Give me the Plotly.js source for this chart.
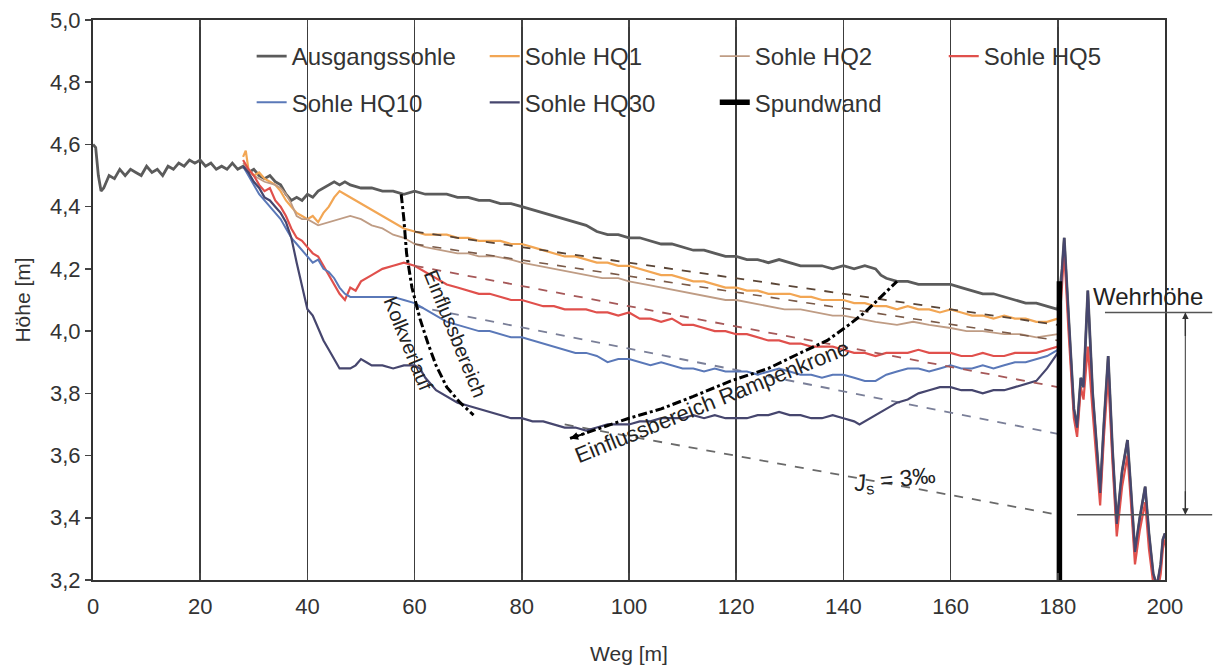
<!DOCTYPE html>
<html><head><meta charset="utf-8">
<script src="https://cdn.plot.ly/plotly-3.0.1.min.js"></script>
<style>body{margin:0;background:#fff}#chart{width:1228px;height:668px}</style>
</head><body><div id="chart"></div>
<script>
// ---------- DATA ----------
const ausX = [0,0.5,1,1.5,2,3,4,5,6,7,8,9,10,11,12,13,14,15,16,17,18,19,20,21,22,23,24,25,26,27,28,29,30,31,32,33,34,35,36,37,38,39,40,41,42,43,44,45,46,47,48,50,52,54,56,58,60,62,64,66,68,70,72,74,76,78,80,82,84,86,88,90,92,94,96,98,100,102,104,106,108,110,112,114,116,118,120,122,124,126,128,130,132,134,136,138,140,142,144,146,147,148,150,152,154,156,158,160,162,164,166,168,170,172,174,176,178,180];
const ausY = [4.60,4.59,4.50,4.45,4.46,4.50,4.49,4.52,4.50,4.52,4.51,4.50,4.53,4.51,4.52,4.50,4.53,4.52,4.54,4.53,4.55,4.54,4.55,4.53,4.54,4.52,4.53,4.52,4.54,4.52,4.53,4.51,4.52,4.50,4.49,4.50,4.48,4.47,4.44,4.42,4.43,4.42,4.44,4.43,4.45,4.46,4.47,4.48,4.47,4.48,4.47,4.46,4.46,4.45,4.45,4.44,4.45,4.44,4.44,4.44,4.43,4.43,4.42,4.42,4.41,4.41,4.40,4.39,4.38,4.37,4.36,4.35,4.34,4.32,4.31,4.31,4.30,4.30,4.29,4.28,4.28,4.27,4.26,4.26,4.25,4.24,4.24,4.23,4.23,4.22,4.23,4.22,4.21,4.21,4.21,4.20,4.21,4.20,4.21,4.20,4.18,4.17,4.16,4.16,4.15,4.15,4.15,4.15,4.14,4.13,4.12,4.12,4.11,4.10,4.09,4.09,4.08,4.07];

const hq1X = [28,28.5,29,30,31,32,33,34,35,36,37,38,39,40,41,42,43,44,45,46,47,48,50,52,54,56,58,60,62,64,66,68,70,72,74,76,78,80,82,84,86,88,90,92,94,96,98,100,102,104,106,108,110,112,114,116,118,120,122,124,126,128,130,132,134,136,138,140,142,144,146,148,150,152,154,156,158,160,162,164,166,168,170,172,174,176,178,180];
const hq1Y = [4.56,4.58,4.52,4.50,4.51,4.49,4.48,4.47,4.45,4.42,4.40,4.38,4.37,4.36,4.37,4.35,4.38,4.40,4.43,4.45,4.44,4.43,4.41,4.39,4.37,4.35,4.33,4.32,4.31,4.31,4.31,4.30,4.30,4.29,4.29,4.29,4.28,4.28,4.27,4.26,4.25,4.24,4.24,4.23,4.22,4.22,4.21,4.21,4.20,4.19,4.18,4.18,4.17,4.16,4.16,4.15,4.14,4.14,4.13,4.13,4.12,4.12,4.12,4.11,4.11,4.10,4.10,4.10,4.09,4.09,4.08,4.08,4.07,4.08,4.07,4.07,4.06,4.07,4.06,4.05,4.05,4.04,4.05,4.04,4.04,4.03,4.03,4.04];

const hq2X = [28,30,32,34,35,36,37,38,39,40,42,44,46,48,50,52,54,56,58,60,62,65,68,70,72,75,78,80,83,86,89,92,95,98,100,103,106,109,112,115,118,120,123,126,129,132,135,138,140,143,146,150,153,156,160,163,166,170,173,176,180];
const hq2Y = [4.54,4.50,4.48,4.47,4.46,4.44,4.41,4.37,4.36,4.36,4.34,4.35,4.36,4.37,4.36,4.34,4.33,4.31,4.30,4.28,4.27,4.26,4.25,4.25,4.24,4.24,4.23,4.22,4.21,4.20,4.19,4.18,4.17,4.17,4.16,4.15,4.14,4.13,4.12,4.11,4.10,4.10,4.09,4.08,4.07,4.07,4.06,4.05,4.05,4.04,4.03,4.02,4.03,4.02,4.01,4.00,4.00,3.99,3.99,3.98,3.99];

const hq5X = [28,29,30,31,32,33,34,35,36,37,38,39,40,41,42,43,44,45,46,47,48,49,50,52,54,56,58,60,62,64,66,68,70,72,74,76,78,80,82,84,86,88,90,92,94,96,98,100,102,104,106,108,110,112,114,116,118,120,122,124,126,128,130,132,134,136,138,140,142,144,146,148,150,152,154,156,158,160,162,164,166,168,170,172,174,176,178,180];
const hq5Y = [4.55,4.52,4.50,4.47,4.45,4.46,4.42,4.40,4.37,4.33,4.30,4.29,4.27,4.25,4.24,4.21,4.18,4.15,4.12,4.10,4.14,4.13,4.16,4.18,4.20,4.21,4.22,4.21,4.19,4.17,4.15,4.14,4.13,4.12,4.12,4.11,4.10,4.10,4.09,4.08,4.08,4.07,4.07,4.07,4.06,4.06,4.05,4.06,4.04,4.04,4.03,4.04,4.02,4.02,4.01,4.00,4.00,3.99,3.99,3.98,3.97,3.97,3.96,3.96,3.95,3.95,3.95,3.94,3.93,3.93,3.92,3.93,3.93,3.93,3.94,3.93,3.93,3.93,3.92,3.92,3.93,3.92,3.92,3.93,3.93,3.93,3.94,3.95];

const hq10X = [28,29,30,31,32,33,34,35,36,37,38,39,40,41,42,43,44,45,46,47,48,50,52,54,56,58,60,62,64,66,68,70,72,74,76,78,80,82,84,86,88,90,92,94,96,98,100,102,104,106,108,110,112,114,116,118,120,122,124,126,128,130,132,134,136,138,140,142,144,146,148,150,152,154,156,158,160,162,164,166,168,170,172,174,176,178,180];
const hq10Y = [4.53,4.50,4.47,4.44,4.42,4.40,4.38,4.36,4.33,4.30,4.28,4.26,4.24,4.22,4.23,4.20,4.19,4.17,4.14,4.12,4.11,4.11,4.11,4.11,4.11,4.10,4.09,4.07,4.05,4.03,4.02,4.01,4.00,4.00,3.99,3.98,3.98,3.97,3.96,3.95,3.94,3.93,3.93,3.92,3.90,3.91,3.91,3.90,3.89,3.90,3.89,3.88,3.88,3.87,3.88,3.87,3.87,3.87,3.86,3.87,3.88,3.87,3.86,3.86,3.85,3.86,3.86,3.85,3.84,3.84,3.86,3.87,3.88,3.88,3.87,3.88,3.89,3.88,3.88,3.89,3.88,3.89,3.90,3.90,3.91,3.92,3.94];

const hq30X = [28,29,30,31,32,33,34,35,36,37,38,39,40,41,42,43,44,45,46,47,48,49,50,51,52,54,56,58,60,61,62,64,66,68,70,72,74,76,78,80,82,84,86,88,90,92,94,96,98,100,102,104,106,108,110,112,114,116,118,120,122,124,126,128,130,132,134,136,138,140,142,143,144,146,148,150,152,154,156,158,160,162,164,166,168,170,172,174,176,178,180];
const hq30Y = [4.53,4.51,4.48,4.46,4.43,4.42,4.40,4.38,4.35,4.30,4.22,4.14,4.07,4.05,4.01,3.97,3.94,3.91,3.88,3.88,3.88,3.89,3.91,3.90,3.89,3.89,3.88,3.89,3.89,3.88,3.85,3.81,3.79,3.77,3.76,3.75,3.74,3.73,3.72,3.72,3.71,3.71,3.70,3.69,3.69,3.68,3.69,3.70,3.70,3.70,3.71,3.71,3.72,3.72,3.72,3.73,3.72,3.73,3.72,3.72,3.72,3.73,3.73,3.74,3.73,3.73,3.72,3.72,3.73,3.72,3.71,3.70,3.71,3.73,3.75,3.77,3.78,3.80,3.81,3.82,3.82,3.81,3.81,3.80,3.81,3.81,3.82,3.83,3.84,3.88,3.93];

// bed downstream of the weir (x > 180)
const weirX  = [180.8,181.2,182,183,183.6,184.3,184.8,185.6,186.5,187.9,188.6,189.4,190.2,191,192,193,193.6,194.4,195.3,196.3,197,197.8,198.5,199.2,199.6,200];
const weirY  = [4.20,4.30,4.05,3.75,3.69,3.85,3.82,4.13,3.80,3.48,3.70,3.92,3.62,3.38,3.55,3.65,3.50,3.29,3.40,3.50,3.35,3.22,3.18,3.25,3.33,3.35];
const weirY5 = [4.15,4.26,4.00,3.72,3.66,3.82,3.78,3.95,3.74,3.44,3.66,3.86,3.58,3.34,3.50,3.60,3.46,3.25,3.36,3.45,3.30,3.19,3.15,3.22,3.30,3.33];

const wallX = [180.3,180.3];
const wallY = [3.20,4.16];

// dashed regression lines
const trend1X = [60,180], trend1Y = [4.32,4.02];
const trend2X = [60,180], trend2Y = [4.28,3.97];
const trend5X = [60,180], trend5Y = [4.21,3.82];
const trend10X = [60,180], trend10Y = [4.08,3.67];
const trendJX = [88,180], trendJY = [3.70,3.41];

// dash-dot influence curves
const kolkX = [57.5,58,58.5,59.5,61,62.5,64,66,68.5,71];
const kolkY = [4.44,4.36,4.25,4.14,4.04,3.96,3.89,3.82,3.77,3.73];
const rampX = [89,95,100,106,112,119,126,132,137,141,144,147,150];
const rampY = [3.655,3.69,3.72,3.75,3.79,3.84,3.88,3.93,3.97,4.02,4.06,4.11,4.16];

const xTicks = [0,20,40,60,80,100,120,140,160,180,200];
const yTicks = [3.2,3.4,3.6,3.8,4.0,4.2,4.4,4.6,4.8,5.0];

// ---------- TRACES ----------
const FONT = 'Liberation Sans, Arial, sans-serif';
function line(x,y,color,width,name,legend,dash){
  return {type:'scatter',mode:'lines',x:x,y:y,name:name||'',showlegend:!!name,
    legend:legend||'legend',legendgroup:name||undefined,
    line:{color:color,width:width,dash:dash||'solid'},hoverinfo:'skip'};
}
const traces = [
  line(trend10X,trend10Y,'#7a7f98',1.8,null,null,'dash'),
  line(trendJX,trendJY,'#6a6a6a',1.8,null,null,'dash'),
  line(ausX.concat(weirX),ausY.concat(weirY),'#5b5b5b',2.8,'Ausgangssohle','legend'),
  line(hq1X,hq1Y,'#f2a654',2.2,'Sohle HQ1','legend2'),
  line(hq2X,hq2Y,'#bf9c84',1.8,'Sohle HQ2','legend3'),
  line(hq5X.concat(weirX),hq5Y.concat(weirY5),'#e0504c',2.2,'Sohle HQ5','legend4'),
  line(hq10X,hq10Y,'#5a78b8',2.0,'Sohle HQ10','legend'),
  line(hq30X.concat(weirX),hq30Y.concat(weirY),'#46466e',2.2,'Sohle HQ30','legend2'),
  line(trend1X,trend1Y,'#5a4536',1.8,null,null,'dash'),
  line(trend2X,trend2Y,'#7a5a48',1.6,null,null,'dash'),
  line(trend5X,trend5Y,'#a65858',1.8,null,null,'dash'),
  line(wallX,wallY,'#000000',5.5,'Spundwand','legend3'),
  line(kolkX,kolkY,'#000000',3,null,null,'dashdot'),
  line(rampX,rampY,'#000000',3,null,null,'dashdot')
];

// ---------- LAYOUT ----------
const tf = {family:FONT,size:22,color:'#333'};
const lf = {family:FONT,size:24,color:'#333'};
function leg(x){
  return {orientation:'v',x:x,xanchor:'left',y:0.975,yanchor:'top',bgcolor:'rgba(0,0,0,0)',
    font:lf,traceorder:'grouped',tracegroupgap:12,itemwidth:30};
}
const layout = {
  width:1228,height:668,
  margin:{l:93,r:63,t:20,b:88},
  paper_bgcolor:'#fff',plot_bgcolor:'#fff',
  separators:',.',
  font:{family:FONT,size:22,color:'#333'},
  xaxis:{range:[0,200],tickvals:xTicks,ticks:'inside',ticklen:7,tickwidth:1.5,tickcolor:'#444',
    showline:true,linecolor:'#333',linewidth:2,mirror:'ticks',
    showgrid:true,gridcolor:'#3c3c3c',gridwidth:1.6,zeroline:false,
    tickfont:tf,ticklabelstandoff:6,
    title:{text:'Weg [m]',font:{family:FONT,size:21,color:'#333'},standoff:28}},
  yaxis:{range:[3.2,5.0],tickvals:yTicks,tickformat:'.1f',ticks:'outside',ticklen:6,tickwidth:1.5,tickcolor:'#444',
    showline:true,linecolor:'#333',linewidth:2,mirror:true,
    showgrid:false,zeroline:false,tickfont:tf,
    title:{text:'Höhe [m]',font:{family:FONT,size:21,color:'#333'},standoff:14}},
  legend:leg(0.148),
  legend2:leg(0.3654),
  legend3:leg(0.580),
  legend4:leg(0.7936),
  shapes:[
    {type:'rect',xref:'paper',yref:'paper',x0:0.135,x1:0.96,y0:0.816,y1:0.986,
      fillcolor:'#fff',line:{width:0},layer:'below'},
    // Wehrhöhe dimensioning (outside the plot on the right)
    {type:'line',xref:'paper',yref:'y',x0:0.944,x1:1.044,y0:4.06,y1:4.06,line:{color:'#555',width:1.5}},
    {type:'line',xref:'paper',yref:'y',x0:0.918,x1:1.044,y0:3.41,y1:3.41,line:{color:'#555',width:1.5}},
    {type:'line',xref:'paper',yref:'y',x0:1.019,x1:1.019,y0:3.41,y1:4.06,line:{color:'#555',width:1.2}}
  ],
  annotations:[
    {x:67.6,y:3.99,xref:'x',yref:'y',text:'Einflussbereich',showarrow:false,textangle:68,
      font:{family:FONT,size:20,color:'#222'}},
    {x:58.9,y:3.96,xref:'x',yref:'y',text:'Kolkverlauf',showarrow:false,textangle:68,
      font:{family:FONT,size:20,color:'#222'}},
    {x:115.5,y:3.775,xref:'x',yref:'y',text:'Einflussbereich Rampenkrone',showarrow:false,textangle:-22,
      font:{family:FONT,size:22,color:'#222'}},
    {x:149.5,y:3.52,xref:'x',yref:'y',text:'<i>J</i><sub>s</sub> = 3‰',showarrow:false,textangle:-6,
      font:{family:FONT,size:23,color:'#222'}},
    {x:186.2,y:4.11,xref:'x',yref:'y',text:'Wehrhöhe',showarrow:false,xanchor:'left',
      font:{family:FONT,size:24,color:'#222'}},
    {x:89,y:3.655,ax:92,ay:3.672,xref:'x',yref:'y',axref:'x',ayref:'y',text:'',showarrow:true,
      arrowhead:2,arrowsize:0.8,arrowwidth:2,arrowcolor:'#000'},
    {x:1.019,y:4.06,xref:'paper',yref:'y',ax:0,ay:25,text:'',showarrow:true,arrowhead:2,arrowsize:1,arrowwidth:1.3,arrowcolor:'#333'},
    {x:1.019,y:3.41,xref:'paper',yref:'y',ax:0,ay:-25,text:'',showarrow:true,arrowhead:2,arrowsize:1,arrowwidth:1.3,arrowcolor:'#333'}
  ]
};
Plotly.newPlot('chart',traces,layout,{displayModeBar:false,staticPlot:true});
</script></body></html>
